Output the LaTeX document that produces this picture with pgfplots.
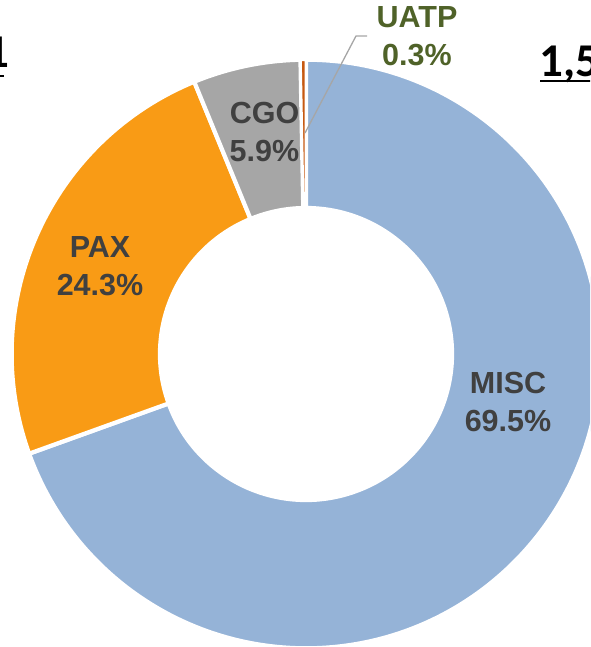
\documentclass[border=0pt]{standalone}
\usepackage{fontspec}
\setmainfont{Liberation Sans}
\newfontfamily\calibri{Carlito}
\usepackage{pgfplots}
\pgfplotsset{compat=1.18}
\usepackage{pgfplotstable}
\definecolor{cMISC}{HTML}{95B3D7}
\definecolor{cPAX}{HTML}{F99B15}
\definecolor{cCGO}{HTML}{A6A6A6}
\definecolor{cUATP}{HTML}{C65911}
\definecolor{lbl}{HTML}{404040}
\definecolor{uatpgreen}{HTML}{4F6228}
\definecolor{leader}{HTML}{A6A6A6}

\pgfplotstableread{
label value
MISC 69.5
PAX 24.3
CGO 5.9
UATP 0.3
}\sharetable

\newcommand\slice[4]{%
  \path[fill=#3, draw=white, line width=#4, line join=miter]
    ([shift={(#1:294.3pt)}]axis cs:306,293) arc[start angle=#1, end angle=#2, radius=294.3pt]
    -- ([shift={(#2:146pt)}]axis cs:306,293) arc[start angle=#2, end angle=#1, radius=146pt]
    -- cycle;}

\begin{document}
\begin{tikzpicture}
\pgfplotstablegetelem{0}{value}\of\sharetable \let\vA\pgfplotsretval
\pgfplotstablegetelem{1}{value}\of\sharetable \let\vB\pgfplotsretval
\pgfplotstablegetelem{2}{value}\of\sharetable \let\vC\pgfplotsretval
\pgfplotstablegetelem{3}{value}\of\sharetable \let\vD\pgfplotsretval
\pgfmathsetmacro\aA{90}
\pgfmathsetmacro\aB{\aA-3.6*\vA}
\pgfmathsetmacro\aC{\aB-3.6*\vB}
\pgfmathsetmacro\aD{\aC-3.6*\vC}
\pgfmathsetmacro\aE{\aD-3.6*\vD}
\useasboundingbox (0,0) rectangle (590pt,647pt);
\clip (0,0) rectangle (590pt,647pt);
\begin{axis}[at={(0,0)}, anchor=south west, x=1pt, y=1pt,
  xmin=0, xmax=590, ymin=0, ymax=647, hide axis, clip=false]
\slice{\aA}{\aB}{cMISC}{4.2pt}
\slice{\aB}{\aC}{cPAX}{4.2pt}
\slice{\aC}{\aD}{cCGO}{4.2pt}
\slice{\aD}{\aE}{cUATP}{2.6pt}
\draw[leader, line width=1.3pt] (axis cs:305,514) -- (axis cs:356,611) -- (axis cs:367,611);
\node[font=\bfseries\fontsize{30.5}{38}\selectfont, text=lbl, align=center] at (axis cs:508,245) {MISC\\69.5\%};
\node[font=\bfseries\fontsize{30.5}{38}\selectfont, text=lbl, align=center] at (axis cs:100,380.5) {PAX\\24.3\%};
\node[font=\bfseries\fontsize{30.5}{38}\selectfont, text=lbl, align=center] at (axis cs:264.5,514.5) {CGO\\5.9\%};
\node[font=\bfseries\fontsize{30.5}{38}\selectfont, text=uatpgreen, align=center] at (axis cs:417,611) {UATP\\0.3\%};
\end{axis}
\node[anchor=base west, inner sep=0pt, font=\calibri\bfseries\fontsize{47}{50}\selectfont] at (539pt,570pt) {1,5};
\fill (540pt,564.6pt) rectangle (600pt,567.3pt);
\node[anchor=base east, inner sep=0pt, font=\calibri\bfseries\fontsize{47}{50}\selectfont] at (10pt,579pt) {1};
\fill (-10pt,569.7pt) rectangle (4pt,572.4pt);
\end{tikzpicture}
\end{document}
